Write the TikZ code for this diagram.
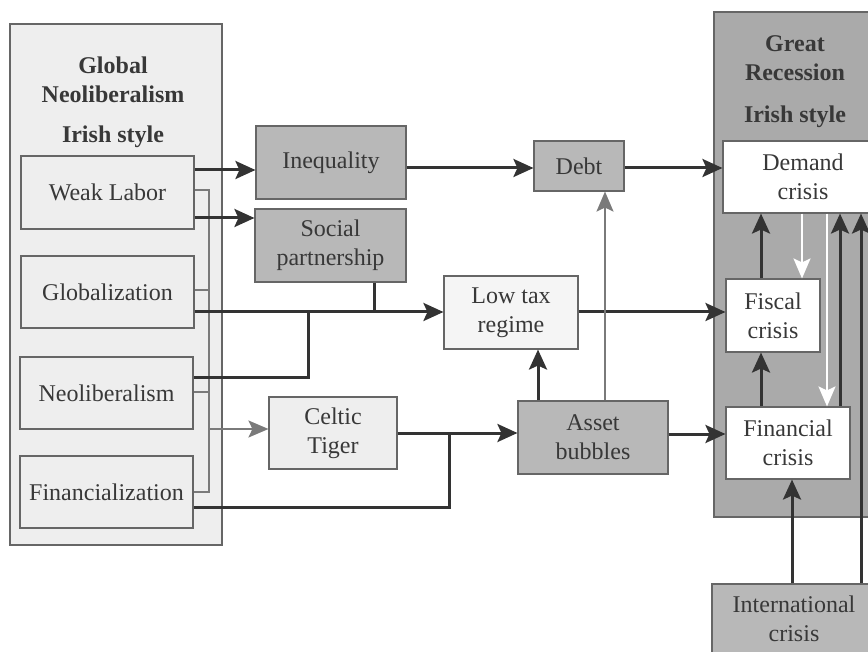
\documentclass[tikz,border=0pt]{standalone}
\usepackage{fontspec}
\setmainfont{Liberation Serif}
\usetikzlibrary{arrows.meta}
\definecolor{txt}{HTML}{383838}
\definecolor{bord}{HTML}{666666}
\definecolor{darkfill}{HTML}{B8B8B8}
\definecolor{grfill}{HTML}{AAAAAA}
\definecolor{lightfill}{HTML}{EEEEEE}
\definecolor{palefill}{HTML}{F5F5F5}
\definecolor{dline}{HTML}{333333}
\definecolor{gline}{HTML}{7A7A7A}
\tikzset{
  box/.style={draw=bord, line width=1.1pt, inner sep=0pt, align=center, text=txt,
    font=\fontsize{24}{29}\selectfont},
  darkbox/.style={box, fill=darkfill},
  lightbox/.style={box, fill=lightfill},
  palebox/.style={box, fill=palefill},
  whitebox/.style={box, fill=white},
  titletext/.style={align=center, text=txt, inner sep=0pt, font=\fontsize{24}{29}\selectfont\bfseries},
  dl/.style={draw=dline, line width=3pt},
  darr/.style={dl, -{Stealth[length=20pt,width=18pt,inset=4pt]}},
  gl/.style={draw=gline, line width=2pt},
  garr/.style={gl, -{Stealth[length=20pt,width=17pt,inset=4pt]}},
  warr/.style={draw=white, line width=2.2pt, -{Stealth[length=20pt,width=17pt,inset=4pt]}},
}
\begin{document}
\begin{tikzpicture}[x=1pt,y=-1pt]
\useasboundingbox (0,0) rectangle (868,652);
\clip (0,0) rectangle (868,652);
% outer containers
\node[box, fill=lightfill, minimum width=212pt, minimum height=521pt] (left) at (116,284.5) {};
\node[titletext] (lefttitle) at (113,102) {Global\\Neoliberalism\\[11pt]Irish style};
\node[box, fill=grfill, minimum width=176pt, minimum height=505pt] (great) at (802,264.5) {};
\node[titletext] (greattitle) at (795,82) {Great\\Recession\\[13pt]Irish style};
% left boxes
\node[lightbox, minimum width=173pt, minimum height=73pt] (weak) at (107.5,192.5) {Weak Labor};
\node[lightbox, minimum width=173pt, minimum height=72pt] (glob) at (107.5,292) {Globalization};
\node[lightbox, minimum width=173pt, minimum height=72pt] (neo) at (106.5,393) {Neoliberalism};
\node[lightbox, minimum width=173pt, minimum height=72pt] (fin) at (106.5,492) {Financialization};
% middle boxes
\node[darkbox, minimum width=150pt, minimum height=73pt] (ineq) at (331,162.5) {Inequality};
\node[darkbox, minimum width=151pt, minimum height=73pt] (social) at (330.5,245.5) {Social\\partnership};
\node[darkbox, minimum width=90pt, minimum height=50pt] (debt) at (579,166) {Debt};
\node[palebox, minimum width=134pt, minimum height=73pt] (lowtax) at (511,312.5) {Low tax\\regime};
\node[lightbox, minimum width=128pt, minimum height=72pt] (celtic) at (333,433) {Celtic\\Tiger};
\node[darkbox, minimum width=150pt, minimum height=73pt] (asset) at (593,437.5) {Asset\\bubbles};
% right boxes
\node[whitebox, minimum width=160pt, minimum height=72pt] (demand) at (803,177) {Demand\\crisis};
\node[whitebox, minimum width=94pt, minimum height=73pt] (fiscal) at (773,315.5) {Fiscal\\crisis};
\node[whitebox, minimum width=124pt, minimum height=72pt] (financial) at (788,443) {Financial\\crisis};
\node[darkbox, minimum width=164pt, minimum height=70pt] (intl) at (794,619) {International\\crisis};
% helper coordinates
\coordinate (yA) at (0,170);
\coordinate (yB) at (0,218);
\coordinate (yC) at (0,168);
\coordinate (yD) at (0,312);
\coordinate (yF) at (0,378);
\coordinate (yG) at (0,507);
\coordinate (yH) at (0,433);
\coordinate (yI) at (0,434);
\coordinate (j2) at (374,312);
\coordinate (j3) at (308,312);
\coordinate (j4) at (449,433);
\coordinate (busT) at (209,190);
\coordinate (busB) at (209,492);
\coordinate (busG) at (209,290);
\coordinate (busN) at (209,392);
\coordinate (busC) at (209,429);
\coordinate (xJ) at (538,0);
\coordinate (xK) at (605,0);
\coordinate (xL) at (761,0);
\coordinate (xM) at (802,0);
\coordinate (xN) at (827,0);
\coordinate (xO) at (840,0);
\coordinate (xP) at (861,0);
\coordinate (xQ) at (792,0);
% gray bus
\draw[gl] (weak.east |- busT) -- (busT) -- (busB) -- (fin.east |- busB);
\draw[gl] (glob.east |- busG) -- (busG);
\draw[gl] (neo.east |- busN) -- (busN);
\draw[garr] (busC) -- (celtic.west |- busC);
% dark connectors
\draw[darr] (weak.east |- yA) -- (ineq.west |- yA);
\draw[darr] (weak.east |- yB) -- (social.west |- yB);
\draw[darr] (ineq.east |- yC) -- (debt.west |- yC);
\draw[darr] (debt.east |- yC) -- (demand.west |- yC);
\draw[darr] (glob.east |- yD) -- (lowtax.west |- yD);
\draw[dl] (social.south -| j2) -- (j2);
\draw[dl] (neo.east |- yF) -| (j3);
\draw[darr] (lowtax.east |- yD) -- (fiscal.west |- yD);
\draw[dl] (fin.east |- yG) -| (j4);
\draw[darr] (celtic.east |- yH) -- (asset.west |- yH);
\draw[darr] (asset.east |- yI) -- (financial.west |- yI);
\draw[darr] (asset.north -| xJ) -- (lowtax.south -| xJ);
\draw[garr] (asset.north -| xK) -- (debt.south -| xK);
\draw[darr] (fiscal.north -| xL) -- (demand.south -| xL);
\draw[darr] (financial.north -| xL) -- (fiscal.south -| xL);
\draw[darr] (financial.north -| xO) -- (demand.south -| xO);
\draw[darr] (intl.north -| xP) -- (demand.south -| xP);
\draw[darr] (intl.north -| xQ) -- (financial.south -| xQ);
\draw[warr] (demand.south -| xM) -- (fiscal.north -| xM);
\draw[warr] (demand.south -| xN) -- (financial.north -| xN);
\end{tikzpicture}
\end{document}
